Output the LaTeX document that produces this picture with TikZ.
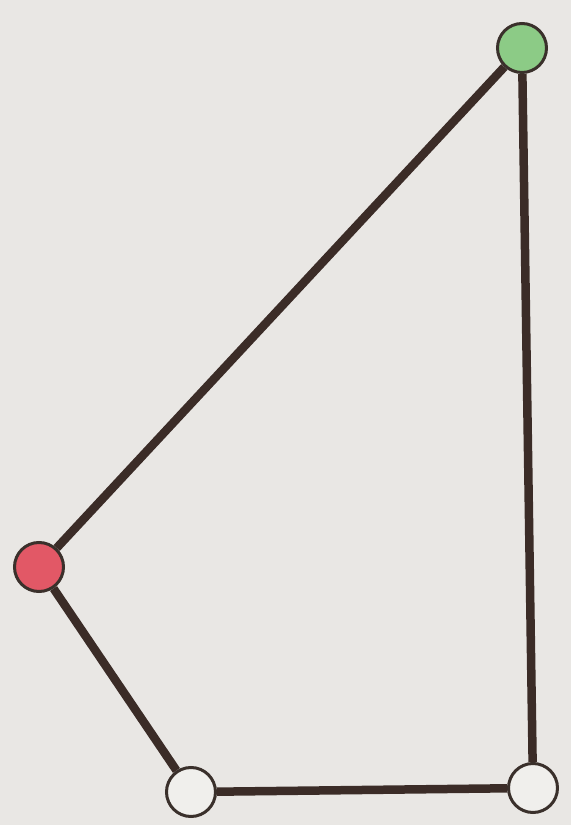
\documentclass[tikz,border=0pt]{standalone}
\begin{document}
\begin{tikzpicture}[x=1pt,y=1pt,
  edge/.style={draw=edgecol,line width=8.5pt},
  vtx/.style={circle,draw=ringcol,line width=3pt,minimum size=49pt,inner sep=0pt}]
\definecolor{bgcol}{HTML}{E9E7E4}
\definecolor{edgecol}{HTML}{3B2C27}
\definecolor{ringcol}{HTML}{3A302B}
\definecolor{greencol}{HTML}{8CCB86}
\definecolor{redcol}{HTML}{E25866}
\definecolor{whitecol}{HTML}{F0EFEC}
\fill[bgcol] (0,0) rectangle (571,825);
\useasboundingbox (0,0) rectangle (571,825);
\node[vtx,fill=greencol] (g) at (522,777) {};
\node[vtx,fill=redcol] (r) at (39,258) {};
\node[vtx,fill=whitecol] (bl) at (191,33) {};
\node[vtx,fill=whitecol] (br) at (533,37) {};
\draw[edge] (g) -- (r);
\draw[edge] (g) -- (br);
\draw[edge] (r) -- (bl);
\draw[edge] (bl) -- (br);
\end{tikzpicture}
\end{document}
